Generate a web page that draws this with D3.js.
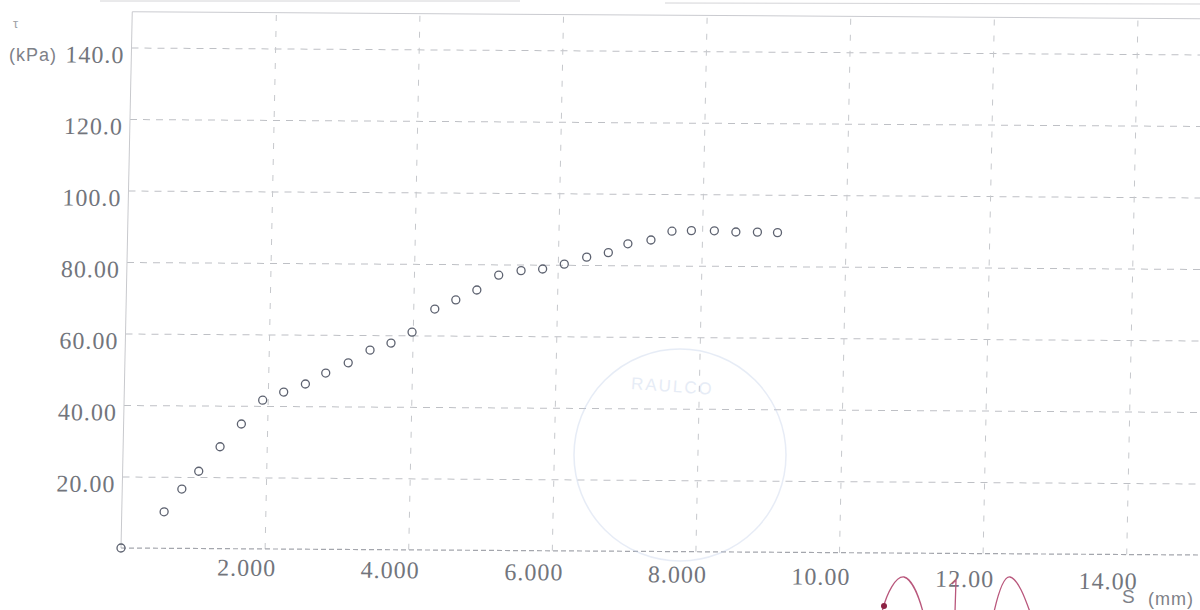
<!DOCTYPE html>
<html>
<head>
<meta charset="utf-8">
<script src="https://cdn.jsdelivr.net/npm/d3@7"></script>
<style>
  body { margin: 0; background: #fff; }
  svg  { display: block; }
</style>
</head>
<body>
<script>
// Direct shear test — shear stress τ (kPa) against horizontal displacement S (mm)

const displacement = [0, 0.59, 0.83, 1.06, 1.35, 1.64, 1.93, 2.22, 2.52, 2.80, 3.11, 3.41, 3.70, 3.99,
                      4.30, 4.59, 4.88, 5.18, 5.49, 5.79, 6.09, 6.40, 6.70, 6.97, 7.29, 7.58, 7.85,
                      8.17, 8.47, 8.77, 9.05];
const shearStress  = [0, 10.2, 16.6, 21.6, 28.5, 34.9, 41.6, 43.9, 46.2, 49.3, 52.2, 55.8, 57.8, 60.9,
                      67.4, 70.0, 72.8, 77.0, 78.3, 78.8, 80.2, 82.2, 83.5, 86.0, 87.1, 89.6, 89.8,
                      89.8, 89.5, 89.5, 89.4];

const xTicks      = [2, 4, 6, 8, 10, 12, 14];
const xTickLabels = ['2.000', '4.000', '6.000', '8.000', '10.00', '12.00', '14.00'];
const yTicks      = [20, 40, 60, 80, 100, 120, 140];
const yTickLabels = ['20.00', '40.00', '60.00', '80.00', '100.0', '120.0', '140.0'];

const xDomain = [0, 16];
const yDomain = [0, 150];

// ── Layout ────────────────────────────────────────────────────────────────
const W = 1200, H = 610;
const ox = 121, oy = 548;            // plot origin (S = 0, τ = 0)
const pxPerMm = 71.8, pxPerKpa = 3.575;
const serif = "'Liberation Serif', 'DejaVu Serif', serif";
const sans  = "'Liberation Sans', Arial, sans-serif";
const ink   = '#72757c';

const svg = d3.select('body').append('svg')
  .attr('width', W).attr('height', H)
  .style('background', '#fff');

const x = d3.scaleLinear().domain(xDomain).range([ox, ox + xDomain[1] * pxPerMm]);
const y = d3.scaleLinear().domain(yDomain).range([oy, oy - yDomain[1] * pxPerKpa]);

// the printout was scanned a little askew — shear the whole plot about its origin
const g = svg.append('g')
  .attr('transform', `translate(${ox},${oy}) matrix(1,0.0065,-0.021,1,0,0) translate(${-ox},${-oy})`);

const plotW = x(xDomain[1]) - ox;
const plotH = oy - y(yDomain[1]);

// Horizontal grid + y labels
const gy = g.append('g')
  .attr('transform', `translate(${ox},0)`)
  .call(d3.axisLeft(y).tickValues(yTicks).tickSize(-plotW).tickPadding(7)
    .tickFormat((d, i) => yTickLabels[i]));
gy.select('.domain').remove();
gy.selectAll('.tick line')
  .attr('stroke', '#bec0c5').attr('stroke-width', 1).attr('stroke-dasharray', '7 6');
gy.selectAll('.tick text')
  .attr('dy', 15)
  .attr('fill', ink)
  .style('font-family', serif).style('font-size', '24px').style('letter-spacing', '1px');

// Vertical grid + x labels (labels drift downward to the right on the scan)
const gx = g.append('g')
  .attr('transform', `translate(0,${oy})`)
  .call(d3.axisBottom(x).tickValues(xTicks).tickSize(-plotH)
    .tickFormat((d, i) => xTickLabels[i]));
gx.select('.domain').remove();
gx.selectAll('.tick line')
  .attr('stroke', '#c6c8cc').attr('stroke-width', 1).attr('stroke-dasharray', '6 10');
gx.selectAll('.tick text')
  .attr('x', -18)
  .attr('y', d => 27 + (x(d) - x(2)) * 0.009)
  .attr('dy', 0)
  .attr('fill', ink)
  .style('font-family', serif).style('font-size', '24px').style('letter-spacing', '1px');

// Frame: top + left solid, bottom axis dotted
g.append('line')
  .attr('x1', ox).attr('x2', ox).attr('y1', oy).attr('y2', y(yDomain[1]))
  .attr('stroke', '#c8c9cd').attr('stroke-width', 1);
g.append('line')
  .attr('x1', ox).attr('x2', x(xDomain[1])).attr('y1', y(yDomain[1])).attr('y2', y(yDomain[1]))
  .attr('stroke', '#cacbd0').attr('stroke-width', 1);
g.append('line')
  .attr('x1', ox).attr('x2', x(xDomain[1])).attr('y1', oy).attr('y2', oy)
  .attr('stroke', '#a4a6ad').attr('stroke-width', 1.2).attr('stroke-dasharray', '5 3');

// Readings
g.append('g').selectAll('circle')
  .data(displacement.map((s, i) => ({ s, t: shearStress[i] })))
  .join('circle')
  .attr('cx', d => x(d.s))
  .attr('cy', d => y(d.t))
  .attr('r', 4)
  .attr('fill', 'none')
  .attr('stroke', '#5d6270')
  .attr('stroke-width', 1.3);

// Axis titles
svg.append('text').attr('x', 13).attr('y', 28).text('τ')
  .attr('fill', '#a0a2a8').style('font-family', sans).style('font-size', '13px');
svg.append('text').attr('x', 9).attr('y', 61).text('(kPa)')
  .attr('fill', '#7e8188').style('font-family', sans).style('font-size', '18px').style('letter-spacing', '1px');
svg.append('text').attr('x', 1122).attr('y', 603).text('S')
  .attr('fill', '#7e8188').style('font-family', sans).style('font-size', '19px');
svg.append('text').attr('x', 1148).attr('y', 605).text('(mm)')
  .attr('fill', '#7e8188').style('font-family', sans).style('font-size', '18px').style('letter-spacing', '1px');

// Scan leftovers: edge of the box above, faint stamp, signature
svg.append('line').attr('x1', 100).attr('x2', 520).attr('y1', 1).attr('y2', 1)
  .attr('stroke', '#d4d4d7').attr('stroke-width', 1);
svg.append('line').attr('x1', 665).attr('x2', 1200).attr('y1', 3).attr('y2', 4)
  .attr('stroke', '#d4d4d7').attr('stroke-width', 1);

const stamp = svg.append('g').attr('opacity', 0.35);
stamp.append('circle').attr('cx', 680).attr('cy', 455).attr('r', 106)
  .attr('fill', 'none').attr('stroke', '#b9c9e6').attr('stroke-width', 1.5);
stamp.append('text').attr('x', 672).attr('y', 392).attr('text-anchor', 'middle')
  .attr('transform', 'rotate(4,672,392)')
  .text('RAULCO')
  .attr('fill', '#b9c9e6').style('font-family', sans).style('font-size', '17px').style('letter-spacing', '2px');

const sign = svg.append('g').attr('fill', 'none').attr('stroke', '#b9577c').attr('stroke-width', 1.3);
sign.append('path').attr('d', 'M882,612 C887,592 896,576 904,577 C912,579 919,597 923,612');
sign.append('path').attr('d', 'M952,584 L956,580 L955,612');
sign.append('path').attr('d', 'M994,612 C999,590 1004,576 1010,577 C1018,579 1025,598 1030,612');
svg.append('circle').attr('cx', 884).attr('cy', 606).attr('r', 3).attr('fill', '#8c2344');
</script>
</body>
</html>
